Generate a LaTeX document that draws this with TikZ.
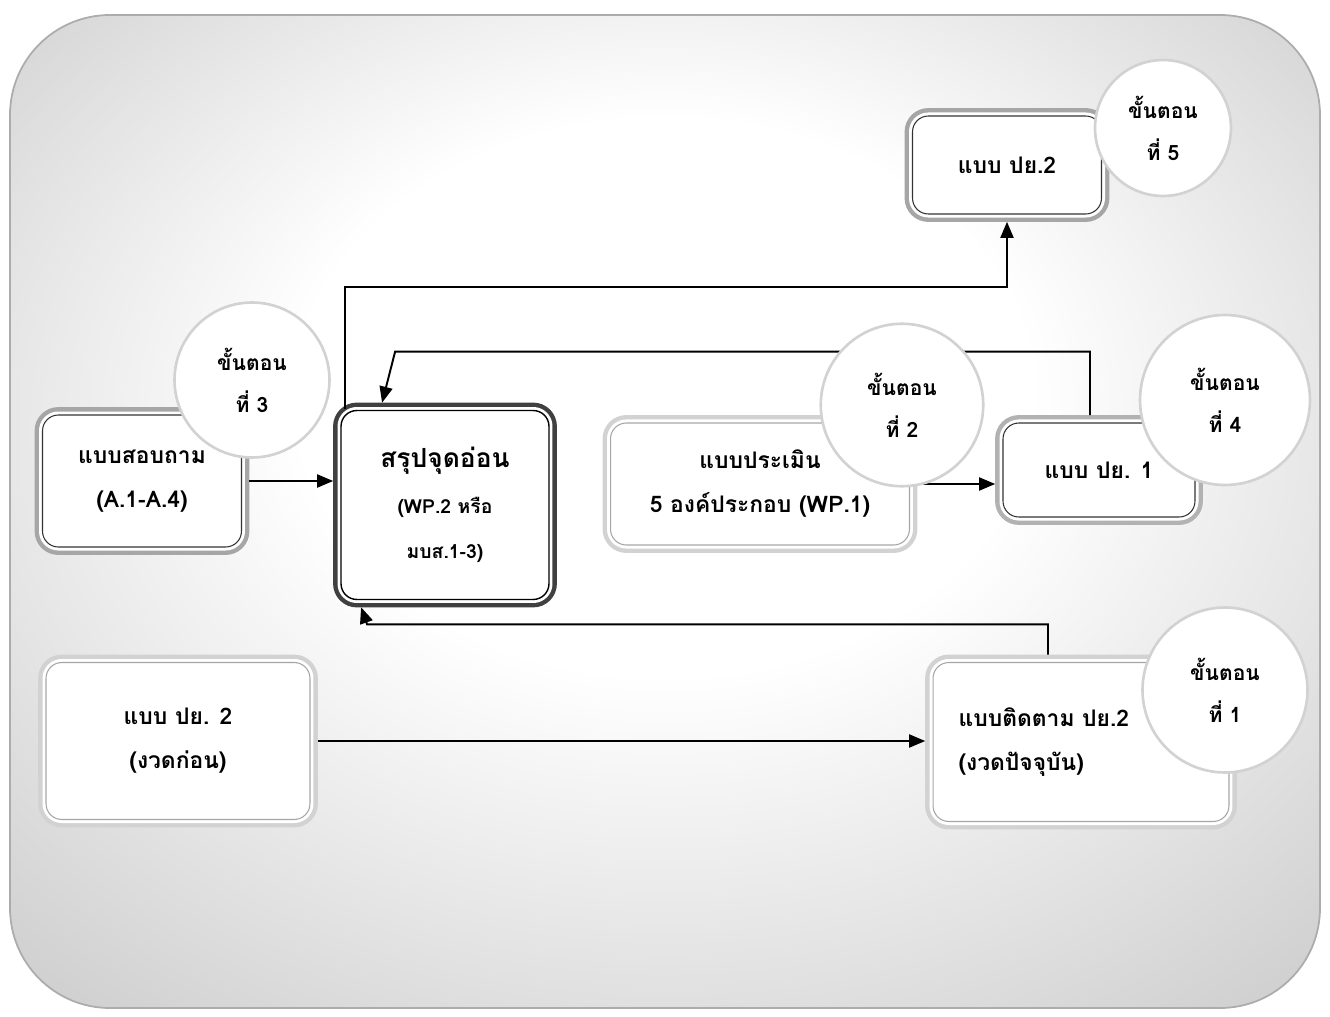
\documentclass[tikz,border=0pt]{standalone}
\usepackage{fontspec}
\setmainfont[Script=Thai]{Loma}
\usepackage{tikz}
\usetikzlibrary{calc,arrows}
\usepackage{xcolor}

\pgfdeclareradialshading{bgglow}{\pgfpoint{0bp}{8bp}}{color(0bp)=(white); color(14bp)=(white); color(50bp)=(gray!62)}

\begin{document}
\begin{tikzpicture}[x=0.02cm, y=-0.02cm,
    box/.style={fill=white, rounded corners=9pt, outer sep=4.5pt, align=center,
      font=\bfseries\fontsize{13}{25}\selectfont,
      preaction={draw=#1, line width=9pt},
      preaction={draw=white, line width=4pt}},
    stage/.style={circle, fill=white, draw=gray!35, line width=1.5pt, inner sep=0pt,
      align=center, font=\bfseries\fontsize{12}{24}\selectfont},
    arr/.style={-triangle 45, line width=1.1pt}]
		\useasboundingbox (0,0) rectangle (1330,1017);
		\shadedraw[shading=bgglow, draw=gray!65, line width=1pt, rounded corners=2cm] (10,15) rectangle (1320,1008);
		% forms
		\node[box=gray!70, draw=black!80, line width=0.6pt, minimum width=3.78cm, minimum height=1.96cm] (ptop) at (1007,165) {แบบ ปย.2};
		\node[box=gray!70, draw=black!80, line width=0.6pt, minimum width=3.98cm, minimum height=2.64cm] (survey) at (142,481) {แบบสอบถาม\\(A.1-A.4)};
		\node[box=gray!50!black, draw=black, line width=0.8pt, minimum width=4.16cm, minimum height=3.78cm, font=\bfseries\fontsize{11}{26}\selectfont] (weak) at (445,505) {{\fontsize{15}{26}\selectfont สรุปจุดอ่อน}\\(WP.2 หรือ\\มบส.1-3)};
		\node[box=gray!35, draw=gray!70, line width=0.6pt, minimum width=5.98cm, minimum height=2.44cm] (assess) at (760,484) {แบบประเมิน\\5 องค์ประกอบ (WP.1)};
		\node[box=gray!60, draw=black!80, line width=0.6pt, minimum width=3.84cm, minimum height=1.88cm] (pay1) at (1099,470) {แบบ ปย. 1};
		\node[box=gray!35, draw=gray!70, line width=0.6pt, minimum width=5.28cm, minimum height=3.14cm] (prev) at (178,741) {แบบ ปย. 2\\(งวดก่อน)};
		\node[box=gray!35, draw=gray!70, line width=0.6pt, minimum width=5.92cm, minimum height=3.18cm, text width=4.9cm, align=left] (follow) at (1081,742) {แบบติดตาม ปย.2\\(งวดปัจจุบัน)};
		% flows
		\draw[arr] (survey.east) -- (survey.east -| weak.west);
		\draw[arr] (assess.east) -- (assess.east -| pay1.west);
		\draw[arr] (prev.east) -- (prev.east -| follow.west);
		\draw[arr] ($(weak.north west)+(12,6)$) |- ($(ptop.south)+(0,65)$) -- (ptop.south);
		\draw[arr] ($(pay1.north)+(-9,0)$) |- ($(weak.north west)+(62,-51)$) -- ($(weak.north west)+(49,0)$);
		\draw[arr] ($(follow.north)+(-33,0)$) |- ($(weak.south west)+(34,17)$) -- ($(weak.south west)+(28,0)$);
		% steps
		\node[stage, minimum size=2.72cm] (s5) at (1163,128) {ขั้นตอน\\ที่ 5};
		\node[stage, minimum size=3.1cm] (s3) at (252,380) {ขั้นตอน\\ที่ 3};
		\node[stage, minimum size=3.25cm] (s2) at (902,405) {ขั้นตอน\\ที่ 2};
		\node[stage, minimum size=3.4cm] (s4) at (1225,400) {ขั้นตอน\\ที่ 4};
		\node[stage, minimum size=3.3cm] (s1) at (1225,690) {ขั้นตอน\\ที่ 1};
\end{tikzpicture}
\end{document}
